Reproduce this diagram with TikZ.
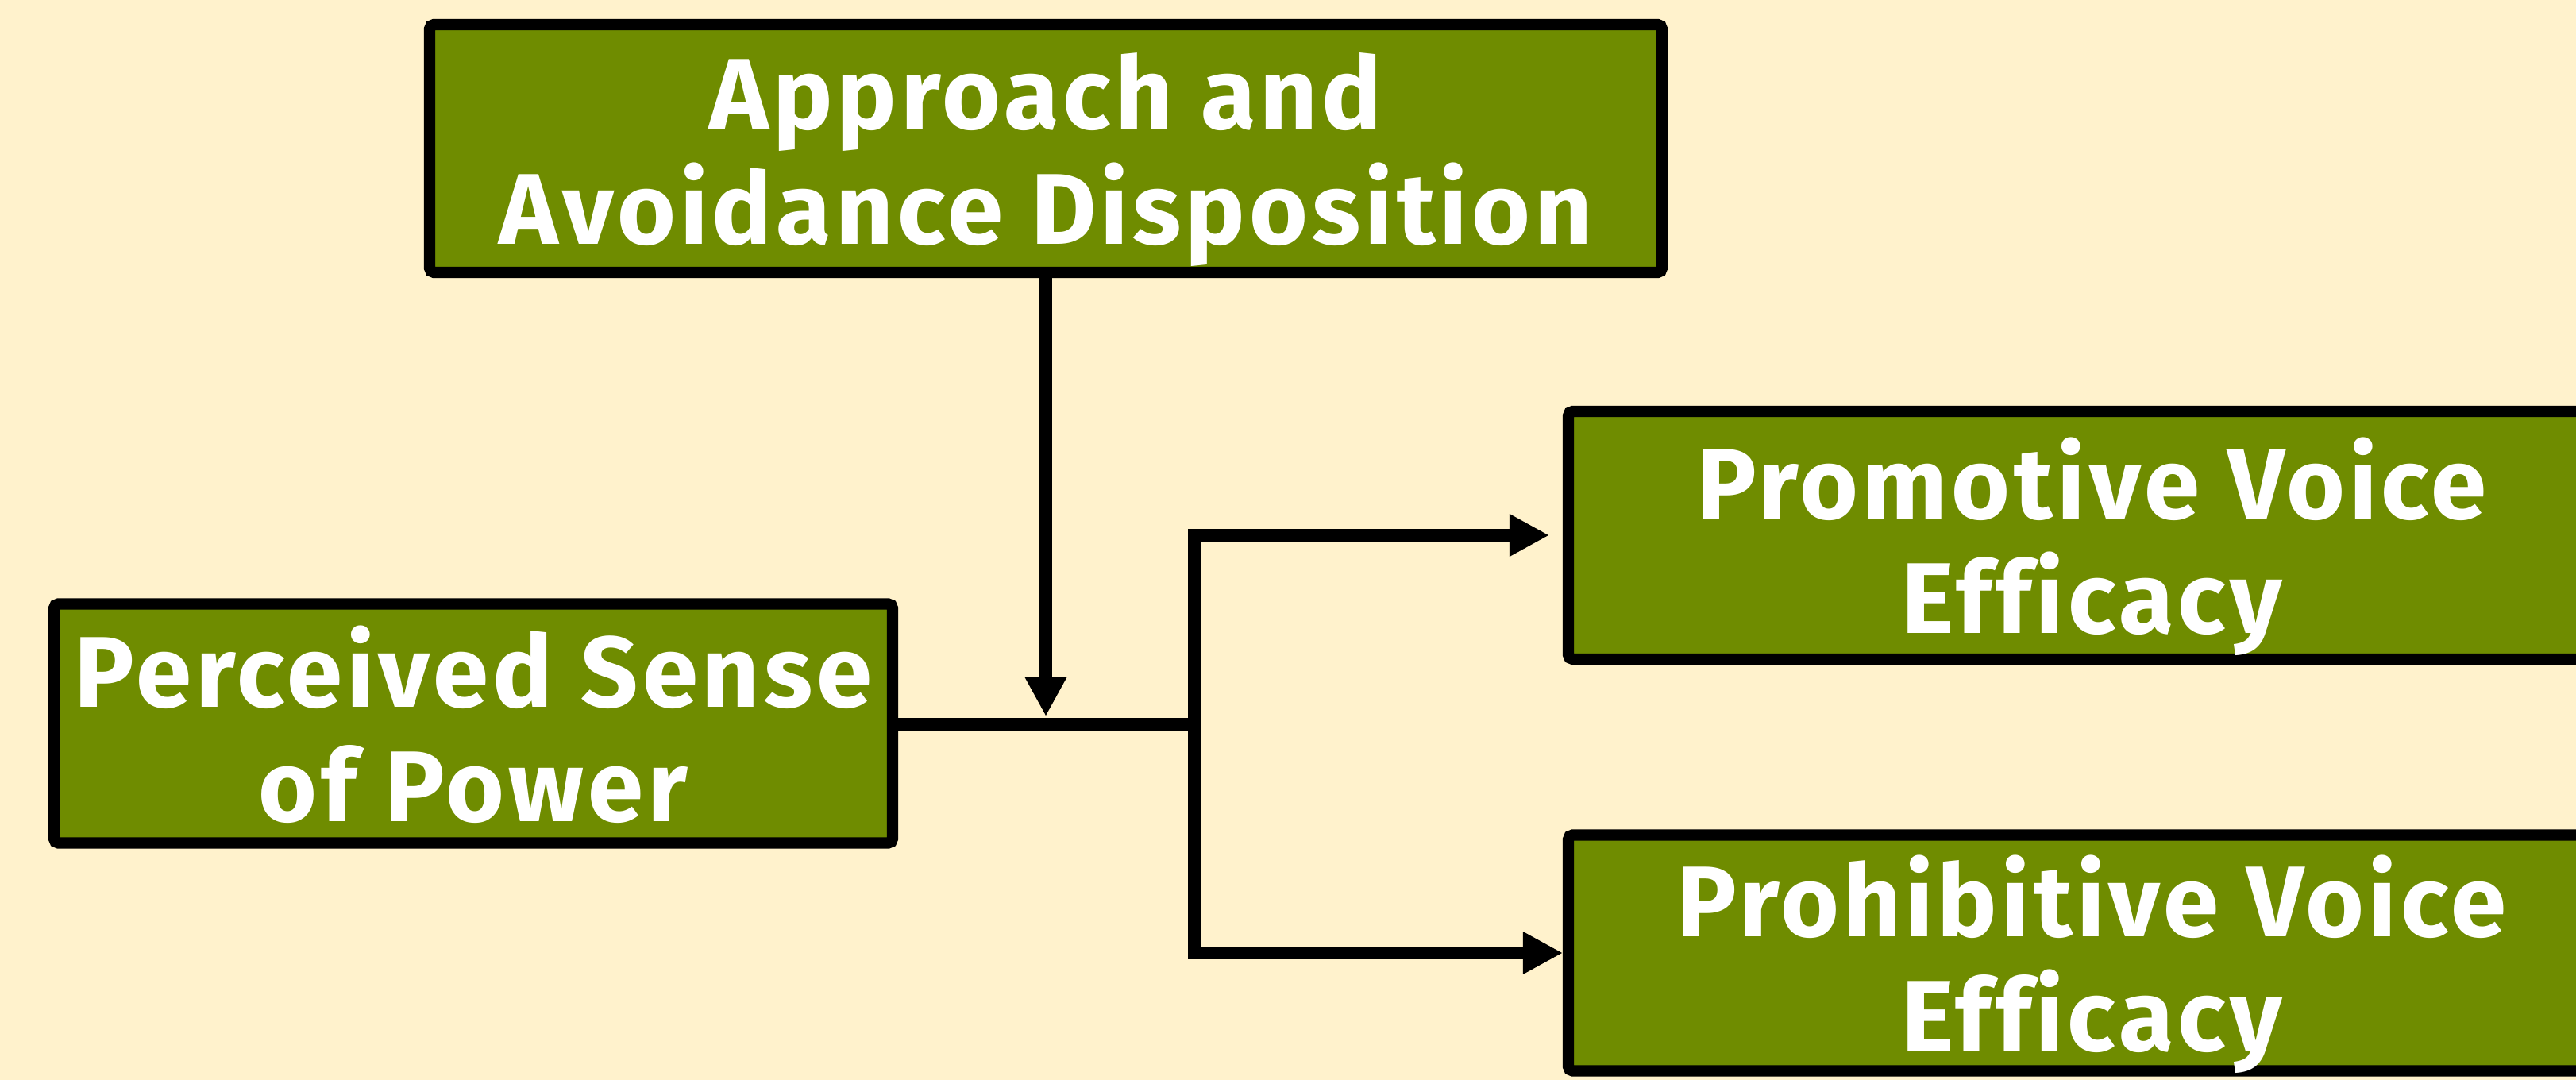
\documentclass[tikz,border=0pt]{standalone}
\usepackage{fontspec}
\setmainfont{Fira Sans}[Ligatures=CommonOff, LetterSpace=4]
\usetikzlibrary{arrows.meta, positioning, calc}
\definecolor{bgcream}{RGB}{255,242,204}
\definecolor{boxgreen}{RGB}{111,140,0}

\begin{document}
\begin{tikzpicture}[
        box/.style={rectangle, draw, line width=4pt, fill=boxgreen, rounded corners=1.5pt, text=white, font=\fontsize{36}{41}\selectfont\bfseries, align=center, inner sep=0pt, text depth=0pt},
        arrow/.style={-{Triangle[length=0.5cm, width=0.5cm]}, line width=4.5pt},
        link/.style={line width=4.5pt}
    ]
        % Canvas
        \fill[bgcream] (0,0) rectangle (32.44,-13.6);
        \useasboundingbox (0,0) rectangle (32.44,-13.6);

        % Boxes
        \node[box, minimum width=15.52cm, minimum height=3.12cm] (approach) at (13.17,-1.87) {Approach and\\Avoidance Disposition};
        \node[box, minimum width=10.56cm, minimum height=3.01cm] (power) at (5.96,-9.11) {Perceived Sense\\of Power};
        \node[box, minimum width=13.18cm, minimum height=3.12cm] (promo) at (26.34,-6.74) {Promotive Voice\\Efficacy};
        \node[box, minimum width=13.18cm, minimum height=2.97cm] (prohib) at (26.34,-12.0) {Prohibitive Voice\\Efficacy};

        % Split point
        \coordinate (split) at (15.04,-9.12);

        % Connectors
        \draw[link] (power.east |- split) -- (split);
        \draw[arrow] (approach.south) -- ($(approach.south |- split)+(0,0.1)$);
        \draw[arrow, shorten >=0.17cm] (split) |- (promo.west);
        \draw[arrow] (split) |- (prohib.west);
    \end{tikzpicture}
\end{document}
